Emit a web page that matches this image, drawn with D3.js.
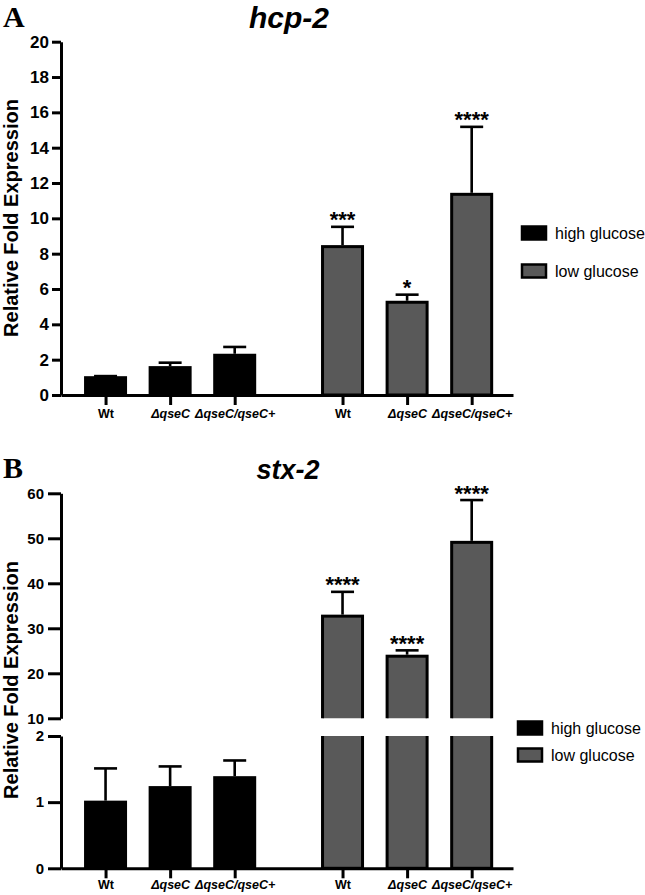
<!DOCTYPE html>
<html>
<head>
<meta charset="utf-8">
<script src="https://cdn.jsdelivr.net/npm/d3@7"></script>
<style>
  body { margin: 0; background: #fff; }
  svg { display: block; }
  text { font-family: "Liberation Sans", Arial, sans-serif; }
</style>
</head>
<body>
<svg id="fig" width="645" height="895"></svg>
<script>
// ---- data ----
const strains = ["Wt", "ΔqseC", "ΔqseC/qseC+"];
const conditions = ["high glucose", "low glucose"];

const hcpHigh = [0.98, 1.55, 2.25];
const hcpHighErr = [0.09, 0.28, 0.47];
const hcpLow = [8.4, 5.25, 11.36];
const hcpLowErr = [1.12, 0.43, 3.82];
const hcpStars = ["***", "*", "****"];

const stxHigh = [1.0, 1.22, 1.37];
const stxHighErr = [0.51, 0.32, 0.26];
const stxLow = [32.7, 23.8, 49.1];
const stxLowErr = [5.4, 1.3, 9.4];
const stxStars = ["****", "****", "****"];

const hcpTicks = [0, 2, 4, 6, 8, 10, 12, 14, 16, 18, 20];
const stxTicksLow = [0, 1, 2];
const stxTicksHigh = [10, 20, 30, 40, 50, 60];

// ---- styling ----
const colors = { "high glucose": "#000", "low glucose": "#595959" };
const groupGap = 3.67;   // slot offset of the second group
const barW = 40, capW = 23;

const svg = d3.select("#fig");

function toRows(high, highErr, low, lowErr, stars) {
  const rows = [];
  conditions.forEach((c, g) => {
    strains.forEach((s, i) => {
      rows.push({
        strain: s, cond: c,
        value: g === 0 ? high[i] : low[i],
        err: g === 0 ? highErr[i] : lowErr[i],
        star: g === 0 ? "" : stars[i],
        pos: i + g * groupGap
      });
    });
  });
  return rows;
}

const x = d3.scaleLinear().domain([-0.69, 6.31]).range([61, 513]);

function styleAxis(g, w) {
  g.select(".domain").attr("stroke", "#000").attr("stroke-width", w);
  g.selectAll(".tick line").attr("stroke", "#000").attr("stroke-width", w);
  g.selectAll(".tick text").attr("fill", "#000").attr("font-weight", "bold");
}

function xAxis(y0, pad, rows) {
  const ax = d3.axisBottom(x)
    .tickValues(rows.map(d => d.pos))
    .tickFormat((d, i) => rows[i].strain)
    .tickSize(10).tickSizeOuter(0).tickPadding(pad);
  const g = svg.append("g").attr("transform", `translate(0,${y0})`).call(ax);
  styleAxis(g, 3);
  g.selectAll(".tick text")
    .attr("font-size", 12.5)
    .attr("font-style", d => rows.find(r => r.pos === d).strain.startsWith("Δ") ? "italic" : "normal");
}

function bars(g, data, y, bottom) {
  g.selectAll("rect.bar").data(data).join("rect")
    .attr("class", "bar")
    .attr("x", d => x(d.pos) - barW / 2)
    .attr("width", barW)
    .attr("y", d => y(d.value))
    .attr("height", d => bottom - y(d.value))
    .attr("fill", d => colors[d.cond])
    .attr("stroke", "#000").attr("stroke-width", 3);
}

function errBars(data, y) {
  const g = svg.append("g").attr("stroke", "#000").attr("stroke-width", 2.6);
  g.selectAll("line.v").data(data).join("line")
    .attr("x1", d => x(d.pos)).attr("x2", d => x(d.pos))
    .attr("y1", d => y(d.value) - 1.5).attr("y2", d => y(d.value + d.err));
  g.selectAll("line.c").data(data).join("line")
    .attr("x1", d => x(d.pos) - capW / 2).attr("x2", d => x(d.pos) + capW / 2)
    .attr("y1", d => y(d.value + d.err)).attr("y2", d => y(d.value + d.err));
}

function stars(data, y) {
  svg.append("g").selectAll("text").data(data.filter(d => d.star)).join("text")
    .attr("x", d => x(d.pos))
    .attr("y", d => y(d.value + d.err) + 0.5)
    .attr("text-anchor", "middle")
    .attr("font-size", 22).attr("font-weight", "bold")
    .text(d => d.star);
}

function legend(lx, ly, step) {
  const g = svg.append("g").attr("transform", `translate(${lx},${ly})`);
  const items = g.selectAll("g").data(conditions).join("g")
    .attr("transform", (d, i) => `translate(0,${i * step})`);
  items.append("rect").attr("x", 0).attr("y", -6.5).attr("width", 24).attr("height", 13)
    .attr("fill", d => colors[d]).attr("stroke", "#000").attr("stroke-width", 2.5);
  items.append("text").attr("x", 33).attr("dy", "0.35em")
    .attr("font-size", 16).text(d => d);
}

function yLabel(cy) {
  svg.append("text")
    .attr("transform", `translate(18,${cy}) rotate(-90)`)
    .attr("text-anchor", "middle")
    .attr("font-size", 20).attr("font-weight", "bold")
    .text("Relative Fold Expression");
}

function panelTitle(letter, ly, title, tx, ty, ts) {
  svg.append("text").attr("x", 3).attr("y", ly)
    .style("font-family", "'Liberation Serif', 'Times New Roman', serif")
    .attr("font-size", 30).attr("font-weight", "bold").text(letter);
  svg.append("text").attr("x", tx).attr("y", ty).attr("text-anchor", "middle")
    .attr("font-size", ts).attr("font-weight", "bold").attr("font-style", "italic").text(title);
}

// ---- panel A: hcp-2 ----
const rowsA = toRows(hcpHigh, hcpHighErr, hcpLow, hcpLowErr, hcpStars);
const yA = d3.scaleLinear().domain([0, 20]).range([395, 41.7]);

panelTitle("A", 27, "hcp-2", 289, 28, 30);
bars(svg.append("g"), rowsA, yA, yA(0));
errBars(rowsA, yA);
stars(rowsA, yA);

const gyA = svg.append("g").attr("transform", "translate(61,0)")
  .call(d3.axisLeft(yA).tickValues(hcpTicks).tickSize(9).tickSizeOuter(0).tickPadding(3));
styleAxis(gyA, 3);
gyA.selectAll(".tick text").attr("font-size", 17);
xAxis(395, 4, rowsA);
yLabel(218);
legend(522, 233, 38);

// ---- panel B: stx-2 (broken axis) ----
const rowsB = toRows(stxHigh, stxHighErr, stxLow, stxLowErr, stxStars);
const yBL = d3.scaleLinear().domain([0, 2]).range([868.3, 736]);
const yBU = d3.scaleLinear().domain([10, 60]).range([718.3, 493.3]);

panelTitle("B", 478, "stx-2", 288, 479, 27);

const defs = svg.append("defs");
defs.append("clipPath").attr("id", "clipLow")
  .append("rect").attr("x", 0).attr("y", yBL(2)).attr("width", 645).attr("height", 200);
defs.append("clipPath").attr("id", "clipHigh")
  .append("rect").attr("x", 0).attr("y", 0).attr("width", 645).attr("height", yBU(10));

// lower segment: every bar, tall ones run past the clip edge
const lowSeg = svg.append("g").attr("clip-path", "url(#clipLow)");
bars(lowSeg, rowsB.map(d => ({ ...d, value: Math.min(d.value, 2.4) })), yBL, yBL(0));
// upper segment: only bars above the break
const highSeg = svg.append("g").attr("clip-path", "url(#clipHigh)");
bars(highSeg, rowsB.filter(d => d.value > 10), yBU, yBU(6));

const rowsBHigh = rowsB.filter(d => d.value <= 2);
const rowsBLow = rowsB.filter(d => d.value > 10);
errBars(rowsBHigh, yBL);
errBars(rowsBLow, yBU);
stars(rowsBLow, yBU);

const gyBU = svg.append("g").attr("transform", "translate(61,0)")
  .call(d3.axisLeft(yBU).tickValues(stxTicksHigh).tickSize(13).tickSizeOuter(0).tickPadding(4));
styleAxis(gyBU, 3);
gyBU.selectAll(".tick text").attr("font-size", 15);
const gyBL = svg.append("g").attr("transform", "translate(61,0)")
  .call(d3.axisLeft(yBL).tickValues(stxTicksLow).tickFormat(d3.format("d"))
    .tickSize(13).tickSizeOuter(0).tickPadding(4));
styleAxis(gyBL, 3);
gyBL.selectAll(".tick text").attr("font-size", 15);

xAxis(868.3, 2, rowsB);
yLabel(680);
legend(518, 728, 27);
</script>
</body>
</html>
